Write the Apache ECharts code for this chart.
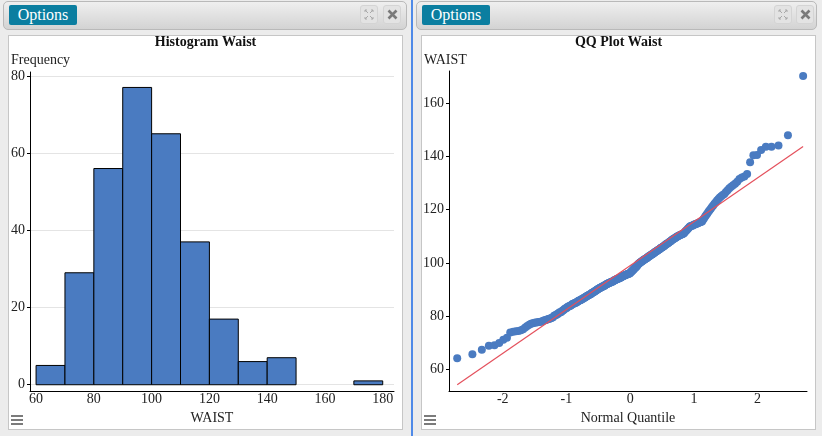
<!DOCTYPE html>
<html>
<head>
<meta charset="utf-8">
<script src="https://cdn.jsdelivr.net/npm/echarts@6/dist/echarts.min.js"></script>
<style>
  html,body{margin:0;padding:0;}
  body{width:822px;height:436px;background:#ececec;overflow:hidden;position:relative;font-family:"Liberation Serif",serif;}
  .hdr{position:absolute;top:1px;height:29px;border:1px solid #b9b9b9;border-radius:5px;background:linear-gradient(#efefef,#d3d3d3);box-sizing:border-box;}
  .opt{position:absolute;top:5px;height:20px;width:68px;background:#0b7ea0;color:#fff;font-size:16px;line-height:20px;text-align:center;border-radius:2px;}
  .ib{position:absolute;top:5px;width:18px;height:19px;background:#e3e3e3;border:1px solid #d4d4d4;border-radius:3px;box-sizing:border-box;}
  .ib svg{position:absolute;left:3px;top:3px;}
  .box{position:absolute;top:35px;height:395px;width:395px;background:#fff;border:1px solid #c6c6c6;box-sizing:border-box;}
  .div{position:absolute;left:411px;top:0;width:2px;height:436px;background:#4f8ae8;}
  .hb{position:absolute;width:12px;height:2px;background:#7b7b7b;}
  #chart{position:absolute;left:0;top:0;width:822px;height:436px;z-index:2;}
</style>
</head>
<body>
<div class="hdr" style="left:3px;width:404px"></div>
<div class="opt" style="left:9px">Options</div>
<div class="ib" style="left:360px"><svg width="10" height="11" viewBox="0 0 10 11"><g stroke="#a9a9a9" stroke-width="1" fill="none"><path d="M1 1 L4 4 M1 1 h2 M1 1 v2"/><path d="M9 1 L6 4 M9 1 h-2 M9 1 v2"/><path d="M1 10 L4 7 M1 10 h2 M1 10 v-2"/><path d="M9 10 L6 7 M9 10 h-2 M9 10 v-2"/></g></svg></div>
<div class="ib" style="left:383px"><svg width="11" height="11" viewBox="0 0 11 11"><path d="M1.5 1.5 L9.5 9.5 M9.5 1.5 L1.5 9.5" stroke="#7a7a7a" stroke-width="2.6"/></svg></div>
<div class="box" style="left:8px"></div>
<div class="hb" style="left:11px;top:415px"></div>
<div class="hb" style="left:11px;top:419px"></div>
<div class="hb" style="left:11px;top:423px"></div>

<div class="div"></div>

<div class="hdr" style="left:416px;width:401px"></div>
<div class="opt" style="left:422px">Options</div>
<div class="ib" style="left:774px"><svg width="10" height="11" viewBox="0 0 10 11"><g stroke="#a9a9a9" stroke-width="1" fill="none"><path d="M1 1 L4 4 M1 1 h2 M1 1 v2"/><path d="M9 1 L6 4 M9 1 h-2 M9 1 v2"/><path d="M1 10 L4 7 M1 10 h2 M1 10 v-2"/><path d="M9 10 L6 7 M9 10 h-2 M9 10 v-2"/></g></svg></div>
<div class="ib" style="left:796px"><svg width="11" height="11" viewBox="0 0 11 11"><path d="M1.5 1.5 L9.5 9.5 M9.5 1.5 L1.5 9.5" stroke="#7a7a7a" stroke-width="2.6"/></svg></div>
<div class="box" style="left:421px"></div>
<div class="hb" style="left:424px;top:415px"></div>
<div class="hb" style="left:424px;top:419px"></div>
<div class="hb" style="left:424px;top:423px"></div>

<div id="chart"></div>
<script>
// ---------- data ----------
const binEdges = [60, 70, 80, 90, 100, 110, 120, 130, 140, 150, 160, 170, 180];
const binCounts = [5, 29, 56, 77, 65, 37, 17, 6, 7, 0, 0, 1];
const histXTicks = [60, 80, 100, 120, 140, 160, 180];
const histYTicks = [0, 20, 40, 60, 80];

const waist = [
  64.3, 65.8, 67.5, 69.0, 69.2,
  70.0, 71.2, 72.0, 73.9, 74.2, 74.4, 74.5, 74.8, 75.2, 75.8, 76.4, 76.8, 77.2, 77.4, 77.6,
  77.7, 77.8, 77.9, 78.0, 78.1, 78.3, 78.5, 78.6, 78.8, 79.0, 79.1, 79.3, 79.5, 79.7,
  80.2, 80.4, 80.5, 80.9, 81.0, 81.4, 81.5, 81.6, 82.0, 82.3,
  82.5, 82.8, 83.0, 83.1, 83.5, 83.7, 83.8, 84.0, 84.1, 84.3,
  84.6, 84.7, 84.8, 85.0, 85.1, 85.2, 85.5, 85.6, 85.8, 85.9,
  86.0, 86.1, 86.4, 86.5, 86.6, 86.9, 87.0, 87.1, 87.3, 87.4,
  87.6, 87.7, 87.9, 88.0, 88.2, 88.3, 88.4, 88.7, 88.8, 88.9,
  89.0, 89.2, 89.4, 89.5, 89.7, 89.9,
  90.0, 90.2, 90.3, 90.4, 90.5, 90.7, 90.8, 90.9, 91.0, 91.2,
  91.3, 91.4, 91.5, 91.6, 91.8, 91.9, 92.0, 92.1, 92.2, 92.4,
  92.5, 92.5, 92.6, 92.8, 92.9, 93.0, 93.0, 93.1, 93.2, 93.4,
  93.5, 93.5, 93.6, 93.8, 93.9, 94.0, 94.1, 94.1, 94.2, 94.4,
  94.5, 94.5, 94.6, 94.7, 94.9, 95.0, 95.0, 95.1, 95.2, 95.4,
  95.5, 95.5, 95.6, 95.7, 95.8, 95.9, 96.0, 96.0, 96.1, 96.2,
  96.4, 96.6, 96.8, 97.0, 97.2, 97.5, 97.6, 97.8, 98.1, 98.2,
  98.4, 98.6, 98.9, 99.1, 99.4, 99.6, 99.8,
  100.0, 100.1, 100.3, 100.5, 100.6, 100.7, 100.9, 101.0, 101.1, 101.3,
  101.4, 101.6, 101.7, 101.8, 102.0, 102.1, 102.3, 102.4, 102.6, 102.7,
  102.8, 103.0, 103.2, 103.3, 103.4, 103.6, 103.7, 103.9, 104.0, 104.2,
  104.3, 104.5, 104.6, 104.8, 105.0, 105.1, 105.2, 105.4, 105.6, 105.7,
  105.8, 106.0, 106.2, 106.3, 106.5, 106.7, 106.9, 107.0, 107.2, 107.3,
  107.5, 107.7, 107.9, 108.1, 108.2, 108.4, 108.6, 108.8, 109.0, 109.1,
  109.3, 109.5, 109.6, 109.8, 109.9,
  110.1, 110.2, 110.4, 110.5, 110.6, 110.8, 110.9, 111.0, 111.2, 111.5,
  111.9, 112.2, 112.5, 112.8, 113.1, 113.5, 113.8, 113.9, 114.0, 114.1,
  114.3, 114.4, 114.5, 114.7, 114.8, 115.0, 115.2, 115.3, 115.5, 115.6,
  116.2, 116.8, 117.4, 118.0, 118.6, 119.2, 119.8,
  120.3, 121.0, 121.6, 122.2, 122.8, 123.4, 124.0, 124.6, 125.0, 125.5,
  125.9, 126.6, 127.3, 128.0, 128.6, 129.2, 129.7,
  130.5, 131.5, 132.1, 132.4, 133.4, 137.8,
  140.4, 140.5, 142.4, 143.6, 143.6, 144.1, 147.9,
  170.1
];
const qqXTicks = [-2, -1, 0, 1, 2];
const qqYTicks = [60, 80, 100, 120, 140, 160];
const qqLineIntercept = 99.0;
const qqLineSlope = 16.45;

// ---------- helpers ----------
function normInv(p) {
  const a=[-3.969683028665376e+01,2.209460984245205e+02,-2.759285104469687e+02,1.383577518672690e+02,-3.066479806614716e+01,2.506628277459239e+00];
  const b=[-5.447609879822406e+01,1.615858368580409e+02,-1.556989798598866e+02,6.680131188771972e+01,-1.328068155288572e+01];
  const c=[-7.784894002430293e-03,-3.223964580411365e-01,-2.400758277161838e+00,-2.549732539343734e+00,4.374664141464968e+00,2.938163982698783e+00];
  const d=[7.784695709041462e-03,3.224671290700398e-01,2.445134137142996e+00,3.754408661907416e+00];
  const pl=0.02425, ph=1-pl; let q, r;
  if (p < pl) { q=Math.sqrt(-2*Math.log(p)); return (((((c[0]*q+c[1])*q+c[2])*q+c[3])*q+c[4])*q+c[5])/((((d[0]*q+d[1])*q+d[2])*q+d[3])*q+1); }
  if (p <= ph) { q=p-0.5; r=q*q; return (((((a[0]*r+a[1])*r+a[2])*r+a[3])*r+a[4])*r+a[5])*q/(((((b[0]*r+b[1])*r+b[2])*r+b[3])*r+b[4])*r+1); }
  q=Math.sqrt(-2*Math.log(1-p)); return -(((((c[0]*q+c[1])*q+c[2])*q+c[3])*q+c[4])*q+c[5])/((((d[0]*q+d[1])*q+d[2])*q+d[3])*q+1);
}

const n = waist.length;
const qqPoints = waist.map((v, i) => [normInv((i + 1) / (n + 1)), v]);
const zMin = qqPoints[0][0], zMax = qqPoints[n - 1][0];
const qqLine = [[zMin, qqLineIntercept + qqLineSlope * zMin], [zMax, qqLineIntercept + qqLineSlope * zMax]];

const histData = [];
binCounts.forEach((c, i) => { if (c > 0) histData.push([binEdges[i], binEdges[i + 1], c]); });

const FONT = '"Liberation Serif", "Times New Roman", serif';
const TXT = '#222';
const lbl = (vals, margin) => ({ customValues: vals, margin: margin, fontSize: 14, color: TXT, fontFamily: FONT });

const chart = echarts.init(document.getElementById('chart'), null, { renderer: 'canvas' });
chart.setOption({
  animation: false,
  textStyle: { fontFamily: FONT },
  title: [
    { text: 'Histogram Waist', left: 205.5, top: 35, textAlign: 'center', padding: 0,
      textStyle: { fontSize: 14, fontWeight: 'bold', color: '#111', fontFamily: FONT } },
    { text: 'Frequency', left: 11, top: 53, padding: 0,
      textStyle: { fontSize: 14, fontWeight: 'normal', color: TXT, fontFamily: FONT } },
    { text: 'QQ Plot Waist', left: 618.5, top: 35, textAlign: 'center', padding: 0,
      textStyle: { fontSize: 14, fontWeight: 'bold', color: '#111', fontFamily: FONT } },
    { text: 'WAIST', left: 424, top: 53, padding: 0,
      textStyle: { fontSize: 14, fontWeight: 'normal', color: TXT, fontFamily: FONT } }
  ],
  grid: [
    { left: 30, top: 72, width: 364, height: 319 },
    { left: 449, top: 71, width: 358, height: 320 }
  ],
  xAxis: [
    { gridIndex: 0, type: 'value', min: 57.9, max: 183.9,
      name: 'WAIST', nameLocation: 'middle', nameGap: 16,
      nameTextStyle: { fontSize: 14, color: TXT, fontFamily: FONT },
      axisLine: { show: true, onZero: false, lineStyle: { color: '#000', width: 1 } },
      axisTick: { show: false, customValues: histXTicks },
      axisLabel: lbl(histXTicks, 1),
      splitLine: { show: false } },
    { gridIndex: 1, type: 'value', min: -2.843, max: 2.775,
      name: 'Normal Quantile', nameLocation: 'middle', nameGap: 16,
      nameTextStyle: { fontSize: 14, color: TXT, fontFamily: FONT },
      axisLine: { show: true, onZero: false, lineStyle: { color: '#000', width: 1 } },
      axisTick: { show: false, customValues: qqXTicks },
      axisLabel: lbl(qqXTicks, 1),
      splitLine: { show: false } }
  ],
  yAxis: [
    { gridIndex: 0, type: 'value', min: -1.62, max: 81,
      axisLine: { show: true, onZero: false, lineStyle: { color: '#000', width: 1 } },
      axisTick: { show: true, length: 3, customValues: histYTicks, lineStyle: { color: '#000' } },
      axisLabel: lbl(histYTicks, 5),
      splitLine: { show: true, lineStyle: { color: '#e4e4e4', width: 1 } } },
    { gridIndex: 1, type: 'value', min: 52, max: 172,
      axisLine: { show: true, onZero: false, lineStyle: { color: '#000', width: 1 } },
      axisTick: { show: true, length: 3, customValues: qqYTicks, lineStyle: { color: '#000' } },
      axisLabel: lbl(qqYTicks, 5),
      splitLine: { show: false } }
  ],
  series: [
    { type: 'custom', xAxisIndex: 0, yAxisIndex: 0, data: histData,
      encode: { x: [0, 1], y: 2 },
      renderItem: function (params, api) {
        const p0 = api.coord([api.value(0), api.value(2)]);
        const p1 = api.coord([api.value(1), 0]);
        return { type: 'rect',
          shape: { x: p0[0], y: p0[1], width: p1[0] - p0[0], height: p1[1] - p0[1] },
          style: { fill: '#4a7bc1', stroke: '#000', lineWidth: 1 } };
      } },
    { type: 'scatter', xAxisIndex: 1, yAxisIndex: 1, data: qqPoints,
      symbol: 'circle', symbolSize: 8, itemStyle: { color: '#4a7bc1', opacity: 1 }, z: 2 },
    { type: 'line', xAxisIndex: 1, yAxisIndex: 1, data: qqLine, symbol: 'none',
      lineStyle: { color: '#e4505c', width: 1.2 }, z: 3 }
  ]
});
</script>
</body>
</html>
